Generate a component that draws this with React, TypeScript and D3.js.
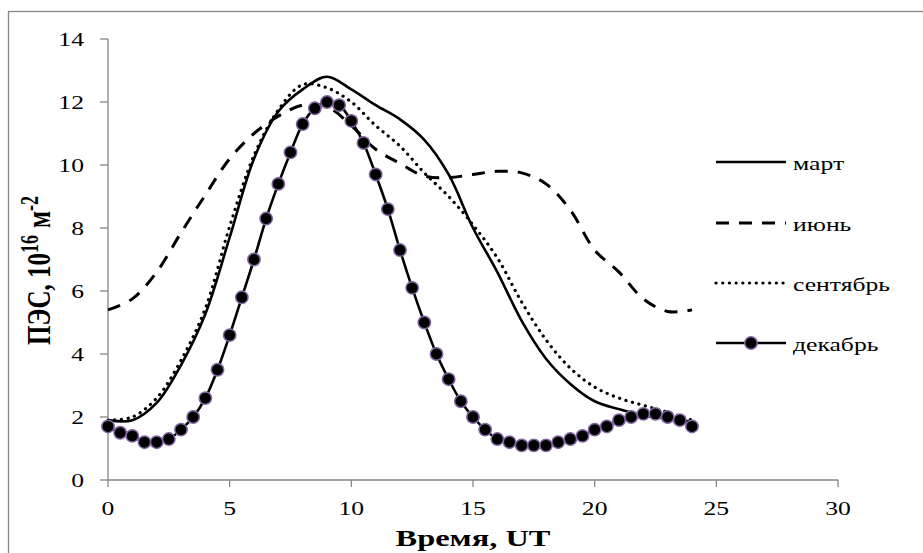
import React, { useEffect, useRef } from 'react'
import * as d3 from 'd3'

// hours (UT) for the hourly series
const hours = [0, 1, 2, 3, 4, 5, 6, 7, 8, 9, 10, 11, 12, 13, 14, 15, 16, 17, 18, 19, 20, 21, 22, 23, 24]
const march = [1.9, 1.9, 2.45, 3.65, 5.27, 7.7, 10.2, 11.7, 12.4, 12.8, 12.4, 11.9, 11.45, 10.8, 9.7, 8.0, 6.6, 5.05, 3.85, 3.05, 2.5, 2.25, 2.05, 1.95, 1.85]
const june = [5.4, 5.75, 6.6, 7.85, 9.05, 10.2, 11.0, 11.55, 11.9, 11.85, 11.25, 10.5, 10.05, 9.65, 9.6, 9.7, 9.8, 9.75, 9.4, 8.57, 7.3, 6.6, 5.75, 5.35, 5.4]
const september = [1.9, 2.0, 2.6, 3.8, 5.45, 8.05, 10.3, 11.75, 12.55, 12.45, 12.0, 11.25, 10.6, 9.75, 9.0, 8.1, 7.05, 5.65, 4.45, 3.55, 2.95, 2.6, 2.37, 2.15, 1.9]

// december is given every half hour
const decHours = [0, 0.5, 1, 1.5, 2, 2.5, 3, 3.5, 4, 4.5, 5, 5.5, 6, 6.5, 7, 7.5, 8, 8.5, 9, 9.5, 10, 10.5, 11, 11.5, 12, 12.5, 13, 13.5, 14, 14.5, 15, 15.5, 16, 16.5, 17, 17.5, 18, 18.5, 19, 19.5, 20, 20.5, 21, 21.5, 22, 22.5, 23, 23.5, 24]
const december = [1.7, 1.5, 1.4, 1.2, 1.2, 1.3, 1.6, 2.0, 2.6, 3.5, 4.6, 5.8, 7.0, 8.3, 9.4, 10.4, 11.3, 11.8, 12.0, 11.9, 11.4, 10.7, 9.7, 8.6, 7.3, 6.1, 5.0, 4.0, 3.2, 2.5, 2.0, 1.6, 1.3, 1.2, 1.1, 1.1, 1.1, 1.2, 1.3, 1.4, 1.6, 1.7, 1.9, 2.0, 2.1, 2.1, 2.0, 1.9, 1.7]

const xTicks = [0, 5, 10, 15, 20, 25, 30]
const yTicks = [0, 2, 4, 6, 8, 10, 12, 14]
const legendNames = ['март', 'июнь', 'сентябрь', 'декабрь']

const W = 923, H = 553
const STRETCH = 1.35 // the picture is a bit wider than tall
const axisColor = '#868686'
const markerStroke = '#8064A2'
const serif = '"Liberation Serif", "Times New Roman", serif'

function App() {
    const ref = useRef<SVGSVGElement>(null)

    useEffect(() => {
        const svg = d3.select(ref.current)
        svg.selectAll('*').remove()

        const x = d3.scaleLinear().domain([0, 30]).range([108, 838])
        const y = d3.scaleLinear().domain([0, 14]).range([480, 39])

        // outer frame (right and bottom edges fall outside the picture)
        svg.append('rect')
            .attr('x', 8.5).attr('y', 11.5)
            .attr('width', 1000).attr('height', 1000)
            .attr('fill', 'none').attr('stroke', axisColor).attr('stroke-width', 1.3)

        const axes = svg.append('g').attr('stroke', axisColor).attr('stroke-width', 1.3)
        axes.append('line').attr('x1', x(0)).attr('x2', x(0)).attr('y1', y(14)).attr('y2', y(0))
        axes.append('line').attr('x1', x(0)).attr('x2', x(30)).attr('y1', y(0)).attr('y2', y(0))
        yTicks.forEach(t => {
            axes.append('line').attr('x1', x(0) - 8).attr('x2', x(0)).attr('y1', y(t)).attr('y2', y(t))
        })
        xTicks.forEach(t => {
            axes.append('line').attr('x1', x(t)).attr('x2', x(t)).attr('y1', y(0)).attr('y2', y(0) + 7)
        })

        const label = (px: number, py: number, txt: string, anchor: string, size: number, bold = false) =>
            svg.append('text')
                .attr('transform', `translate(${px},${py}) scale(${STRETCH},1)`)
                .attr('text-anchor', anchor)
                .attr('font-family', serif)
                .attr('font-size', size)
                .attr('font-weight', bold ? 'bold' : 'normal')
                .attr('fill', '#000')
                .text(txt)

        yTicks.forEach(t => label(x(0) - 24, y(t) + 6.5, String(t), 'end', 19))
        xTicks.forEach(t => label(x(t), 515, String(t), 'middle', 19))

        label(473, 546, 'Время, UT', 'middle', 24, true)

        // y title with superscripts, rotated
        const yt = svg.append('text')
            .attr('transform', `translate(50,345) scale(${STRETCH},1) rotate(-90)`)
            .attr('font-family', serif)
            .attr('font-size', 25)
            .attr('font-weight', 'bold')
        yt.append('tspan').text('ПЭС, 10')
        yt.append('tspan').attr('font-size', 18).attr('dy', -9).text('16')
        yt.append('tspan').attr('dy', 9).attr('dx', 7).text('м')
        yt.append('tspan').attr('font-size', 18).attr('dy', -9).text('-2')

        const line = d3.line<[number, number]>()
            .x(d => x(d[0]))
            .y(d => y(d[1]))
            .curve(d3.curveCatmullRom.alpha(0.5))

        const series = [
            { vals: march, dash: null, width: 2.6, cap: 'butt' },
            { vals: june, dash: '13,10', width: 3, cap: 'butt' },
            { vals: september, dash: '0.1,6.6', width: 3.2, cap: 'round' },
        ]
        series.forEach(s => {
            const p = svg.append('path')
                .datum(hours.map((h, i) => [h, s.vals[i]] as [number, number]))
                .attr('d', line)
                .attr('fill', 'none')
                .attr('stroke', '#000')
                .attr('stroke-width', s.width)
                .attr('stroke-linecap', s.cap)
            if (s.dash) p.attr('stroke-dasharray', s.dash)
        })

        const decPts = decHours.map((h, i) => [h, december[i]] as [number, number])
        svg.append('path')
            .datum(decPts)
            .attr('d', line)
            .attr('fill', 'none')
            .attr('stroke', '#000')
            .attr('stroke-width', 2.6)
        svg.append('g').selectAll('circle')
            .data(decPts)
            .enter()
            .append('circle')
            .attr('cx', d => x(d[0]))
            .attr('cy', d => y(d[1]))
            .attr('r', 6.2)
            .attr('fill', '#000')
            .attr('stroke', markerStroke)
            .attr('stroke-width', 1.5)

        // legend
        const lg = svg.append('g')
        const legY = [162, 223, 283, 343]
        legendNames.forEach((name, i) => {
            const ly = legY[i]
            const l = lg.append('line')
                .attr('x1', 716).attr('x2', 786).attr('y1', ly).attr('y2', ly)
                .attr('stroke', '#000')
                .attr('stroke-width', series[i] ? series[i].width : 2.6)
            if (series[i] && series[i].dash) {
                l.attr('stroke-dasharray', series[i].dash).attr('stroke-linecap', series[i].cap)
            }
            if (i === 3) {
                lg.append('circle').attr('cx', 751).attr('cy', ly).attr('r', 6.2)
                    .attr('fill', '#000').attr('stroke', markerStroke).attr('stroke-width', 1.5)
            }
            label(793, ly + 8, name, 'start', 19)
        })
    }, [])

    return (
        <svg ref={ref} width={W} height={H}
            style={{ position: 'absolute', left: 0, top: 0, background: '#fff' }} />
    )
}

export default App
